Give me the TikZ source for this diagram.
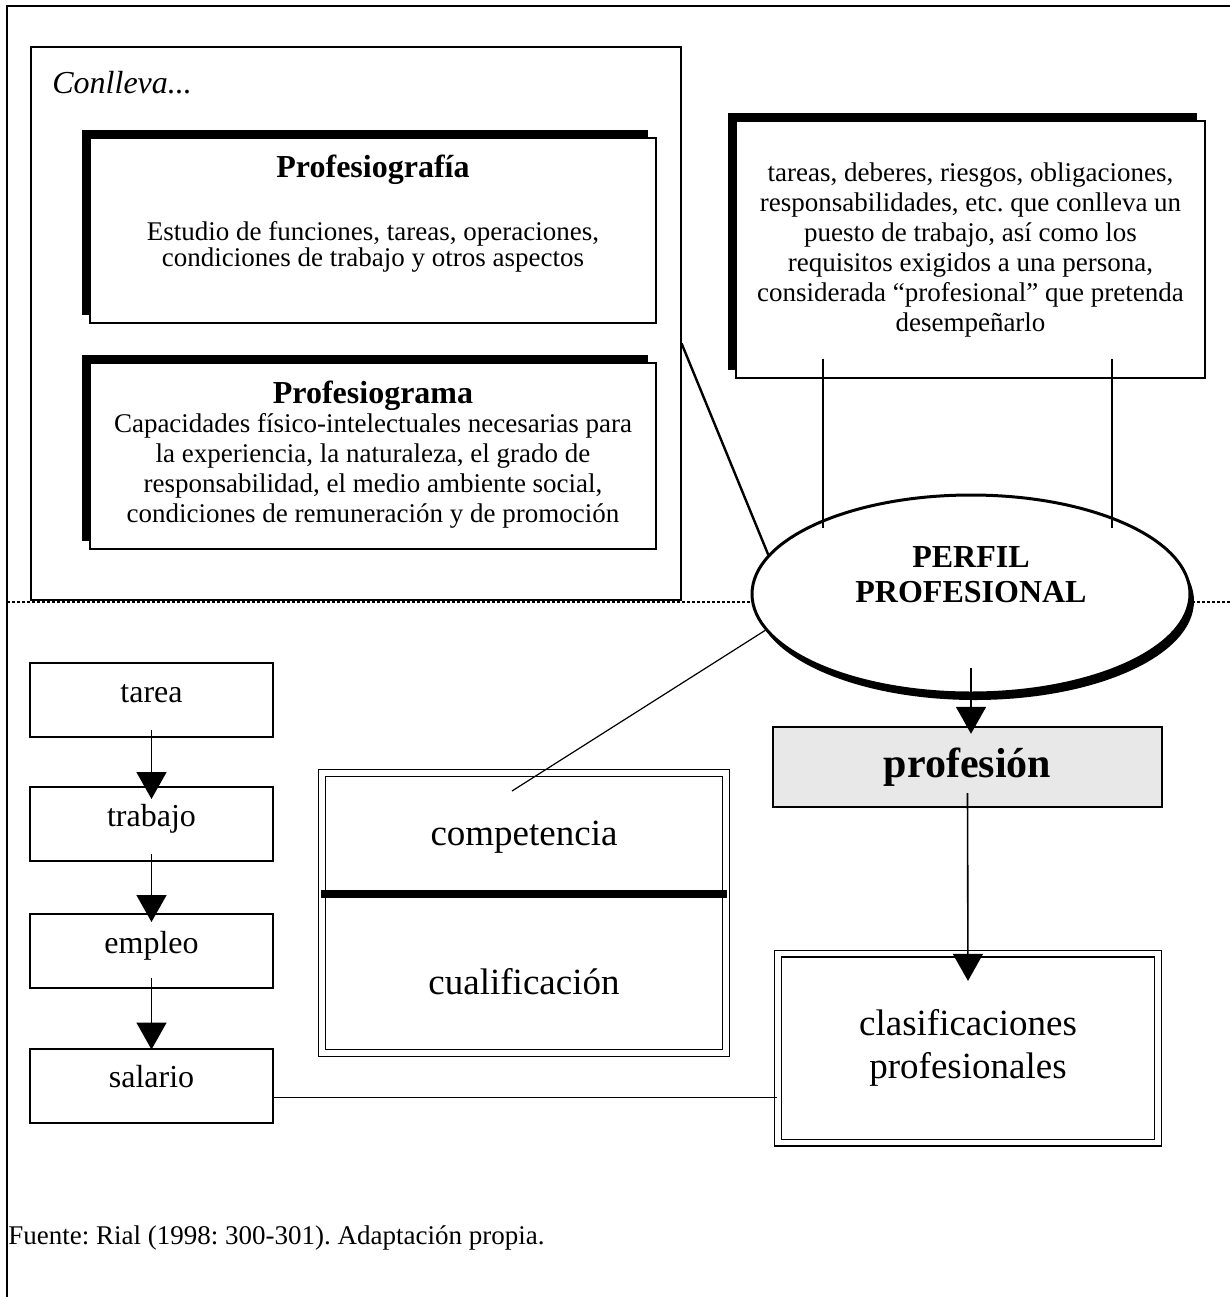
\documentclass[tikz,border=0pt]{standalone}
\usepackage{fontspec}
\setmainfont{Liberation Serif}
\usepackage{tikz}
\usetikzlibrary{arrows.meta,shapes.geometric,shadows}
\definecolor{relleno}{HTML}{E8E8E8}
\frenchspacing

\begin{document}
\begin{tikzpicture}[x=0.5pt, y=-0.5pt,
    caja/.style={draw, line width=1pt, minimum width=121.5pt, minimum height=37pt, inner sep=0pt,
      text height=9pt, text depth=7pt, font=\fontsize{16}{19}\selectfont},
    sombra/.style={draw, line width=0.6pt, fill=white, inner sep=0pt,
      general shadow={fill=black, shadow xshift=-4pt, shadow yshift=4pt}},
    doble/.style={draw, double, double distance=2.8pt, line width=0.6pt, inner sep=0pt, fill=white},
    flecha/.style={-{Triangle[length=13.5pt, width=15pt]}, line width=0.8pt},
    texto/.style={align=center, inner sep=0pt},
    titulo/.style={inner sep=0pt, font=\fontsize{16}{19}\selectfont\bfseries},
    grande/.style={inner sep=0pt, align=center, font=\fontsize{18.5}{21.5}\selectfont}]
  \useasboundingbox (0,0) rectangle (1230,1297);

  % marco y linea de puntos
  \draw[line width=0.6pt] (7,1297) -- (7,6) -- (1230,6);
  \draw[line width=1.4pt, dash pattern=on 1.5pt off 1pt] (7,602) -- (1230,602);

  % Conlleva...
  \node[draw, line width=0.6pt, minimum width=325pt, minimum height=276.5pt, inner sep=0pt] (conlleva) at (356,323.5) {};
  \node[anchor=west, inner sep=0pt, font=\fontsize{16}{19}\selectfont\itshape] (conlleva-t) at (52,83) {Conlleva...};

  \node[sombra, minimum width=283pt, minimum height=92.5pt] (pgrafia) at (373,230.5) {};
  \node[titulo] (pgrafia-t) at (373,170) {Profesiografía};
  \node[texto, font=\fontsize{13.5}{13}\selectfont] (pgrafia-d) at (373,247)
    {Estudio de funciones, tareas, operaciones,\\condiciones de trabajo y otros aspectos};

  \node[sombra, minimum width=283pt, minimum height=93pt] (pgrama) at (373,456) {};
  \node[titulo] (pgrama-t) at (373,396) {Profesiograma};
  \node[texto, font=\fontsize{13.5}{15}\selectfont] (pgrama-d) at (373,471)
    {Capacidades físico-intelectuales necesarias para\\la experiencia, la naturaleza, el grado de\\responsabilidad, el medio ambiente social,\\condiciones de remuneración y de promoción};

  % definicion
  \node[sombra, texto, minimum width=234.5pt, minimum height=128.5pt, font=\fontsize{13.5}{15}\selectfont] (desc) at (970.5,249.5)
    {tareas, deberes, riesgos, obligaciones,\\responsabilidades, etc. que conlleva un\\puesto de trabajo, así como los\\requisitos exigidos a una persona,\\considerada ``profesional'' que pretenda\\desempeñarlo};

  % perfil
  \node[ellipse, draw, line width=1.5pt, fill=white, minimum width=219pt, minimum height=99pt, inner sep=0pt,
    general shadow={fill=black, shadow xshift=2pt, shadow yshift=-3.5pt}] (perfil) at (971,594) {};
  \node[titulo, align=center, font=\fontsize{16}{17.5}\selectfont\bfseries] (perfil-t) at (971,575) {PERFIL\\PROFESIONAL};

  \draw[line width=1.2pt] ([yshift=-10pt]conlleva.east) -- (perfil.169);
  \draw[line width=0.7pt] ([xshift=-73.75pt,yshift=10pt]desc.south) -- ++(0,-84.5pt);
  \draw[line width=0.7pt] ([xshift=70.75pt,yshift=10pt]desc.south) -- ++(0,-84.5pt);

  \node[draw, line width=1.2pt, fill=relleno, minimum width=194.5pt, minimum height=40pt, inner sep=0pt,
    font=\fontsize{21}{24}\selectfont\bfseries] (prof) at (967.5,767) {profesión};
  \node[doble, grande, minimum width=190pt, minimum height=94.5pt] (clas) at (968,1048) {clasificaciones\\profesionales};

  \coordinate (pfin) at (perfil.south |- prof.north);
  \draw[flecha] ([yshift=13.5pt]perfil.south) -- ([yshift=-4pt]pfin);
  \draw[flecha] ([yshift=7.5pt]prof.south) -- ([yshift=-14pt]clas.north);

  % competencia / cualificacion
  \node[doble, minimum width=202pt, minimum height=140pt] (comp) at (524,913) {};
  \node[grande] (comp-a) at (524,837) {competencia};
  \node[grande] (comp-b) at (524,982) {cualificación};
  \draw[line width=4pt] (comp.west |- 0,894) -- (comp.east |- 0,894);
  \coordinate (compin) at (512,791);
  \draw[line width=0.6pt] (perfil.190) -- (compin);

  % tarea -> salario
  \node[caja] (tarea) at (151.5,700) {tarea};
  \node[caja] (trabajo) at (151.5,824) {trabajo};
  \node[caja] (empleo) at (151.5,951) {empleo};
  \node[caja] (salario) at (151.5,1085.5) {salario};
  \draw[flecha] ([yshift=4pt]tarea.south) -- ([yshift=-6.5pt]trabajo.north);
  \draw[flecha] ([yshift=4pt]trabajo.south) -- ([yshift=-4.5pt]empleo.north);
  \draw[flecha] ([yshift=5.5pt]empleo.south) -- ([yshift=-1pt]salario.north);
  \draw[line width=0.6pt] ([yshift=-6pt]salario.east) coordinate (s) -- (s -| clas.west);

  \node[anchor=west, inner sep=0pt, font=\fontsize{13.5}{16}\selectfont] (fuente) at (8,1238)
    {Fuente: Rial (1998: 300-301). Adaptación propia.};
\end{tikzpicture}
\end{document}
